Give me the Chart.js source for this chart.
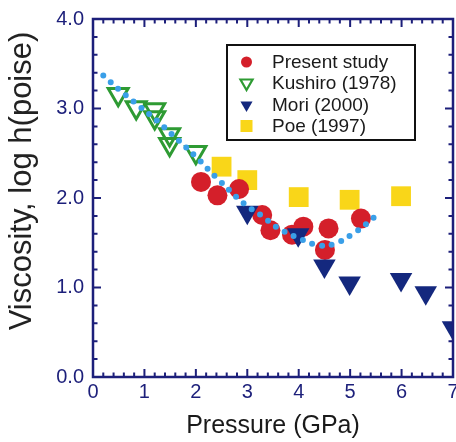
<!DOCTYPE html>
<html>
<head>
<meta charset="utf-8">
<script src="https://cdn.jsdelivr.net/npm/chart.js@4/dist/chart.umd.min.js"></script>
<style>
  html, body { margin: 0; padding: 0; background: #ffffff; }
  #wrap { width: 456px; height: 442px; }
</style>
</head>
<body>
<div id="wrap"><canvas id="c" width="456" height="442"></canvas></div>
<script>
// ---- data ----
const presentX = [2.10, 2.42, 2.84, 3.29, 3.45, 3.87, 4.09, 4.58, 4.51, 5.21];
const presentY = [2.18, 2.03, 2.10, 1.81, 1.64, 1.59, 1.68, 1.66, 1.42, 1.77];

const kushiroX = [0.49, 0.84, 1.20, 1.20, 1.49, 1.49, 2.00];
const kushiroY = [3.16, 3.01, 2.99, 2.90, 2.71, 2.60, 2.51];

const moriX = [3.00, 3.99, 4.50, 4.99, 5.99, 6.47, 7.00];
const moriY = [1.84, 1.59, 1.24, 1.05, 1.09, 0.94, 0.55];

const poeX = [2.50, 3.00, 4.00, 4.99, 5.99];
const poeY = [2.35, 2.20, 2.01, 1.98, 2.02];

const fitX = [0.20, 0.55, 0.87, 1.23, 1.65, 2.00, 2.45, 2.93, 3.26, 3.61, 4.00, 4.41, 4.70, 5.03, 5.38, 5.54];
const fitY = [3.37, 3.19, 3.04, 2.87, 2.65, 2.46, 2.20, 1.94, 1.81, 1.66, 1.55, 1.47, 1.49, 1.59, 1.74, 1.83];

const xTicks = [0, 1, 2, 3, 4, 5, 6, 7];
const yTicks = [0.0, 1.0, 2.0, 3.0, 4.0];

const seriesLabels = ['Present study', 'Kushiro (1978)', 'Mori (2000)', 'Poe (1997)'];

// ---- styling ----
const NAVY = '#1c1f7a';
const RED = '#d41f2a';
const GREEN = '#2e9b33';
const DARKBLUE = '#14287e';
const YELLOW = '#f9d619';
const LIGHTBLUE = '#3a9fe8';
const FONT = "'Liberation Sans', Arial, sans-serif";

const pts = (xs, ys) => xs.map((x, i) => ({ x: x, y: ys[i] }));

// frame + inward ticks on all four sides, drawn through the scales
const framePlugin = {
  id: 'frame',
  afterDatasetsDraw(chart) {
    const { ctx, chartArea: a, scales: { x, y } } = chart;
    ctx.save();
    ctx.strokeStyle = NAVY;
    ctx.lineWidth = 2;
    ctx.lineCap = 'butt';
    const major = 8, minor = 4.5;
    for (let i = 0; i <= 35; i++) {
      const px = x.getPixelForValue(i * 0.2);
      const len = (i % 5 === 0) ? major : minor;
      ctx.beginPath();
      ctx.moveTo(px, a.bottom); ctx.lineTo(px, a.bottom - len);
      ctx.moveTo(px, a.top); ctx.lineTo(px, a.top + len);
      ctx.stroke();
    }
    for (let i = 0; i <= 20; i++) {
      const py = y.getPixelForValue(i * 0.2);
      const len = (i % 5 === 0) ? major : minor;
      ctx.beginPath();
      ctx.moveTo(a.left, py); ctx.lineTo(a.left + len, py);
      ctx.moveTo(a.right, py); ctx.lineTo(a.right - len, py);
      ctx.stroke();
    }
    ctx.lineWidth = 2.5;
    ctx.strokeRect(a.left, a.top, a.right - a.left, a.bottom - a.top);

    // y axis title
    ctx.fillStyle = '#222222';
    ctx.font = '31px ' + FONT;
    ctx.textAlign = 'center';
    ctx.textBaseline = 'middle';
    ctx.translate(22, 181);
    ctx.rotate(-Math.PI / 2);
    ctx.fillText('Viscosity, log h(poise)', 0, 0);
    ctx.restore();
  }
};

// legend box drawn from the dataset styles
const legendPlugin = {
  id: 'boxLegend',
  afterDraw(chart) {
    const { ctx } = chart;
    const bx = 227, by = 45, bw = 188, bh = 95;
    ctx.save();
    ctx.fillStyle = '#ffffff';
    ctx.fillRect(bx, by, bw, bh);
    ctx.strokeStyle = '#111111';
    ctx.lineWidth = 2;
    ctx.strokeRect(bx, by, bw, bh);
    const rows = [62, 83, 105, 126];
    const mx = 246.5;
    seriesLabels.forEach((lab, i) => {
      const cy = rows[i];
      ctx.beginPath();
      if (i === 0) {
        ctx.fillStyle = RED;
        ctx.arc(mx, cy, 5.5, 0, Math.PI * 2);
        ctx.fill();
      } else if (i === 1 || i === 2) {
        const r = 7;
        ctx.moveTo(mx, cy + r);
        ctx.lineTo(mx - r * 0.866, cy - r / 2);
        ctx.lineTo(mx + r * 0.866, cy - r / 2);
        ctx.closePath();
        if (i === 1) {
          ctx.strokeStyle = GREEN; ctx.lineWidth = 2.2; ctx.stroke();
        } else {
          ctx.fillStyle = DARKBLUE; ctx.fill();
        }
      } else {
        ctx.fillStyle = YELLOW;
        ctx.fillRect(mx - 6, cy - 6, 12, 12);
      }
      ctx.fillStyle = '#1a1a1a';
      ctx.font = '19px ' + FONT;
      ctx.textAlign = 'left';
      ctx.textBaseline = 'middle';
      ctx.fillText(lab, 272, cy + 1);
    });
    ctx.restore();
  }
};

new Chart(document.getElementById('c'), {
  type: 'scatter',
  data: {
    datasets: [
      {
        label: 'fit',
        type: 'line',
        data: pts(fitX, fitY),
        borderColor: LIGHTBLUE,
        borderWidth: 6,
        borderDash: [0, 10],
        borderCapStyle: 'round',
        pointRadius: 0,
        tension: 0.4,
        fill: false,
        order: 0
      },
      {
        label: seriesLabels[1],
        data: pts(kushiroX, kushiroY),
        pointStyle: 'triangle',
        rotation: 180,
        pointRadius: 11.5,
        pointBorderWidth: 3,
        pointBackgroundColor: 'rgba(255,255,255,0)',
        pointBorderColor: GREEN,
        order: 1
      },
      {
        label: seriesLabels[2],
        data: pts(moriX, moriY),
        pointStyle: 'triangle',
        rotation: 180,
        pointRadius: 13,
        pointBorderWidth: 0,
        pointBackgroundColor: DARKBLUE,
        pointBorderColor: DARKBLUE,
        clip: 0,
        order: 2
      },
      {
        label: seriesLabels[0],
        data: pts(presentX, presentY),
        pointStyle: 'circle',
        pointRadius: 10,
        pointBorderWidth: 0,
        pointBackgroundColor: RED,
        order: 3
      },
      {
        label: seriesLabels[3],
        data: pts(poeX, poeY),
        pointStyle: 'rect',
        pointRadius: 14,
        pointBorderWidth: 0,
        pointBackgroundColor: YELLOW,
        order: 4
      }
    ]
  },
  options: {
    responsive: false,
    animation: false,
    devicePixelRatio: 1,
    layout: { autoPadding: false, padding: { left: 0, right: 3, top: 19, bottom: 0 } },
    plugins: { legend: { display: false }, tooltip: { enabled: false } },
    scales: {
      x: {
        type: 'linear',
        min: 0, max: 7,
        grid: { display: false, drawTicks: false },
        border: { display: false },
        afterFit(s) { s.height = 65; s.paddingLeft = 0; s.paddingRight = 0; },
        afterBuildTicks(s) { s.ticks = xTicks.map(v => ({ value: v })); },
        ticks: {
          autoSkip: false, maxRotation: 0, padding: 3,
          color: NAVY,
          font: { family: FONT, size: 20 },
          callback: v => String(v)
        },
        title: {
          display: true,
          text: 'Pressure (GPa)',
          color: '#1a1a1a',
          font: { family: FONT, size: 25 },
          padding: { top: 0, bottom: 1 }
        }
      },
      y: {
        type: 'linear',
        min: 0, max: 4,
        grid: { display: false, drawTicks: false },
        border: { display: false },
        afterFit(s) { s.width = 93; s.paddingTop = 0; s.paddingBottom = 0; },
        afterBuildTicks(s) { s.ticks = yTicks.map(v => ({ value: v })); },
        ticks: {
          autoSkip: false, padding: 9,
          color: NAVY,
          font: { family: FONT, size: 20 },
          callback: v => Number(v).toFixed(1)
        }
      }
    }
  },
  plugins: [framePlugin, legendPlugin]
});
</script>
</body>
</html>
